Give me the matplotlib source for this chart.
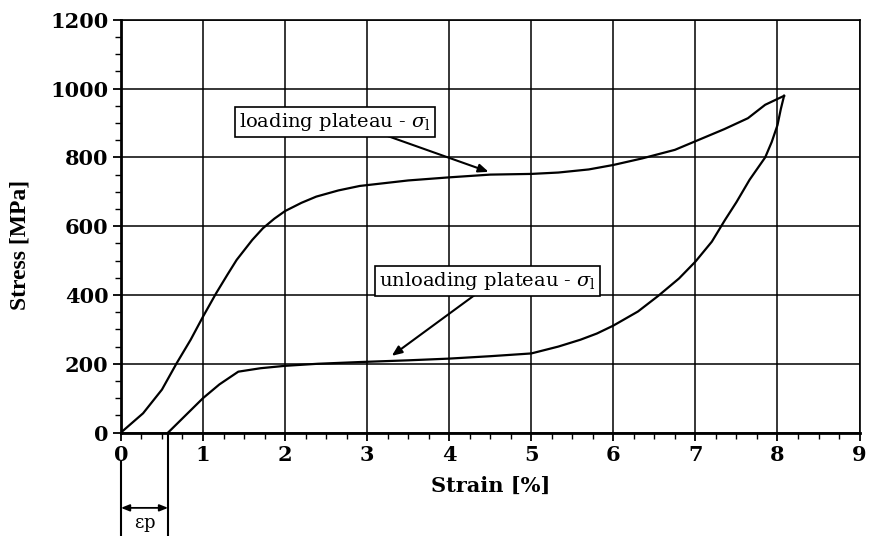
import matplotlib
matplotlib.use("Agg")
import matplotlib.pyplot as plt
from matplotlib.ticker import MultipleLocator

plt.rcParams["mathtext.fontset"] = "dejavuserif"

# ---- data ----
load_strain = [0.0, 0.27, 0.5, 0.68, 0.85, 1.0, 1.16, 1.3, 1.41, 1.6, 1.73, 1.87,
               2.0, 2.2, 2.38, 2.65, 2.91, 3.5, 4.0, 4.5, 5.0, 5.33, 5.7, 6.0,
               6.35, 6.75, 7.04, 7.35, 7.64, 7.85, 8.08]
load_stress = [0, 56, 125, 202, 270, 337, 405, 460, 502, 560, 594, 622,
               644, 668, 686, 704, 717, 733, 742, 750, 752, 756, 765, 778,
               797, 822, 851, 882, 914, 953, 979]

unload_strain = [8.08, 8.04, 8.0, 7.93, 7.85, 7.66, 7.5, 7.36, 7.2, 7.0, 6.8,
                 6.55, 6.3, 6.0, 5.8, 5.6, 5.33, 5.0, 4.5, 4.0, 3.5, 2.91,
                 2.4, 2.0, 1.7, 1.43, 1.2, 1.0, 0.575]
unload_stress = [979, 940, 894, 845, 800, 735, 670, 618, 555, 497, 448,
                 398, 352, 311, 288, 270, 250, 230, 222, 215, 210, 205,
                 200, 194, 187, 177, 140, 100, 0]

eps_p = 0.575

x_ticks = list(range(0, 10))
y_ticks = list(range(0, 1201, 200))

# ---- figure ----
fig = plt.figure(figsize=(8.7, 5.36), dpi=100)
ax = fig.add_axes([0.139, 0.193, 0.849, 0.770])

ax.plot(load_strain, load_stress, color="black", lw=1.6, zorder=3)
ax.plot(unload_strain, unload_stress, color="black", lw=1.6, zorder=3)

ax.set_xlim(0, 9)
ax.set_ylim(0, 1200)
ax.set_xticks(x_ticks)
ax.set_yticks(y_ticks)
ax.xaxis.set_minor_locator(MultipleLocator(0.25))
ax.yaxis.set_minor_locator(MultipleLocator(50))
ax.grid(True, which="major", color="black", lw=1.1)
ax.tick_params(which="major", direction="out", length=6, width=1.3, pad=3,
               labelsize=15)
ax.tick_params(which="minor", direction="out", length=4, width=1.0)
for lab in ax.get_xticklabels() + ax.get_yticklabels():
    lab.set_fontfamily("DejaVu Serif")
    lab.set_fontweight("bold")
for side in ["left", "bottom"]:
    ax.spines[side].set_linewidth(2.0)
for side in ["top", "right"]:
    ax.spines[side].set_linewidth(1.2)

ax.set_xlabel("Strain [%]", fontfamily="DejaVu Serif", fontweight="bold",
              fontsize=15)
ax.xaxis.set_label_coords(0.5, -0.105)
ax.set_ylabel("Stress [MPa]", fontfamily="Liberation Serif", fontweight="bold",
              fontsize=17)
ax.yaxis.set_label_coords(-0.123, 0.455)

box = dict(boxstyle="square,pad=0.2", fc="white", ec="black", lw=1.2)
ax.text(2.61, 903, r"loading plateau - $\sigma_{\mathrm{l}}$", ha="center",
        va="center", fontfamily="DejaVu Serif", fontsize=14, bbox=box, zorder=5)
ax.text(4.47, 440, r"unloading plateau - $\sigma_{\mathrm{l}}$", ha="center",
        va="center", fontfamily="DejaVu Serif", fontsize=14, bbox=box, zorder=5)

arr = dict(arrowstyle="-|>,head_length=0.6,head_width=0.25", color="black",
           lw=1.5, shrinkA=0, shrinkB=0)
ax.annotate("", xy=(4.48, 758), xytext=(3.11, 874), arrowprops=arr, zorder=4)
ax.annotate("", xy=(3.30, 223), xytext=(4.34, 405), arrowprops=arr, zorder=4)

# epsilon_p marker below the axis
ax.plot([0, 0], [-85, -320], color="black", lw=1.5, clip_on=False)
ax.plot([eps_p, eps_p], [0, -320], color="black", lw=1.5, clip_on=False)
ax.annotate("", xy=(0, -219), xytext=(eps_p, -219), annotation_clip=False,
            arrowprops=dict(arrowstyle="<|-|>,head_length=0.5,head_width=0.2",
                            color="black", lw=1.3, shrinkA=0, shrinkB=0))
ax.text(eps_p / 2, -270, r"$\mathrm{\epsilon p}$", ha="center", va="center",
        fontsize=13, clip_on=False)

fig.savefig("out.png", dpi=100)
